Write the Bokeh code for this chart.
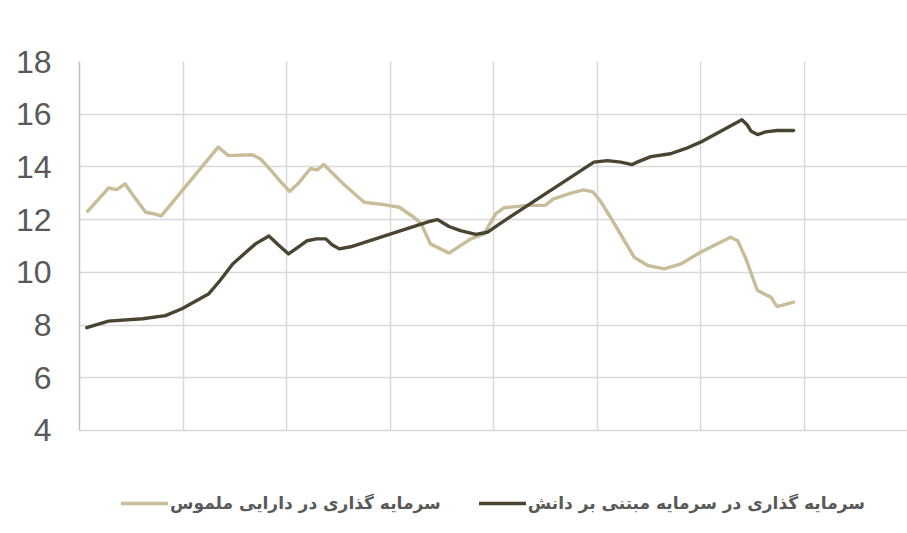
from bokeh.plotting import figure
from bokeh.models import Range1d, FixedTicker, Legend, LegendItem
from bokeh.embed import file_html
from bokeh.resources import INLINE

# Series: investment in tangible assets (light)
tangible_x = [0.08, 0.28, 0.36, 0.44, 0.52, 0.64, 0.72, 0.79, 1.34, 1.44, 1.67, 1.75, 1.85, 1.94,
              2.03, 2.11, 2.23, 2.30, 2.36, 2.55, 2.75, 2.94, 3.09, 3.23, 3.30, 3.39, 3.57, 3.78,
              3.91, 4.02, 4.10, 4.33, 4.50, 4.58, 4.74, 4.87, 4.96, 5.03, 5.13, 5.36, 5.49, 5.65,
              5.81, 6.00, 6.29, 6.36, 6.44, 6.55, 6.68, 6.74, 6.90]
tangible_y = [12.32, 13.20, 13.14, 13.36, 12.91, 12.28, 12.22, 12.14, 14.75, 14.43, 14.46, 14.30, 13.87, 13.45,
              13.07, 13.36, 13.93, 13.89, 14.09, 13.35, 12.66, 12.57, 12.47, 12.09, 11.85, 11.08, 10.73, 11.27,
              11.46, 12.22, 12.45, 12.54, 12.54, 12.79, 13.00, 13.13, 13.05, 12.72, 12.09, 10.57, 10.26, 10.13,
              10.32, 10.76, 11.33, 11.20, 10.50, 9.31, 9.06, 8.70, 8.87]

# Series: investment in knowledge-based capital (dark)
knowledge_x = [0.07, 0.28, 0.61, 0.83, 0.99, 1.25, 1.36, 1.48, 1.70, 1.83, 1.92, 2.02, 2.11, 2.20,
               2.29, 2.38, 2.44, 2.51, 2.62, 3.39, 3.46, 3.51, 3.57, 3.68, 3.83, 3.94, 4.07, 4.97,
               5.10, 5.23, 5.34, 5.40, 5.52, 5.71, 5.86, 6.00, 6.40, 6.45, 6.49, 6.55, 6.63, 6.74, 6.90]
knowledge_y = [7.90, 8.15, 8.24, 8.36, 8.62, 9.19, 9.70, 10.32, 11.08, 11.38, 11.05, 10.70, 10.95, 11.20,
               11.27, 11.27, 11.05, 10.89, 10.97, 11.94, 12.00, 11.88, 11.74, 11.58, 11.44, 11.52, 11.87, 14.18,
               14.24, 14.18, 14.09, 14.20, 14.39, 14.50, 14.70, 14.94, 15.79, 15.60, 15.35, 15.23, 15.33, 15.38, 15.38]

y_ticks = [4, 6, 8, 10, 12, 14, 16, 18]
x_grid = [1, 2, 3, 4, 5, 6, 7, 8]

label_tangible = "سرمایه گذاری در دارایی ملموس"
label_knowledge = "سرمایه گذاری در سرمایه مبتنی بر دانش"

# frame spans from the 18 gridline down to the bottom of the canvas (legend area included)
p = figure(width=907, height=533, output_backend="svg", toolbar_location=None,
           x_range=Range1d(0, 8.0), y_range=Range1d(0.092, 18),
           min_border_left=79, min_border_right=0, min_border_top=61, min_border_bottom=0)
p.outline_line_color = None
p.background_fill_color = "white"
p.border_fill_color = "white"
p.xaxis.visible = False

r1 = p.line(tangible_x, tangible_y, line_color="#c8bd98", line_width=3.4,
            line_join="round", line_cap="round")
r2 = p.line(knowledge_x, knowledge_y, line_color="#4a4431", line_width=3.4,
            line_join="round", line_cap="round")

p.yaxis.ticker = FixedTicker(ticks=y_ticks)
p.yaxis.bounds = (4, 18)
p.yaxis.major_tick_out = 0
p.yaxis.major_tick_in = 0
p.yaxis.minor_tick_out = 0
p.yaxis.minor_tick_in = 0
p.yaxis.major_label_standoff = 28
p.yaxis.major_label_text_font = "Liberation Sans"
p.yaxis.major_label_text_font_size = "32px"
p.yaxis.major_label_text_color = "#595959"
p.yaxis.axis_line_color = "#bfbfbf"
p.yaxis.axis_line_width = 1.5

p.ygrid.ticker = FixedTicker(ticks=y_ticks)
p.ygrid.grid_line_color = "#d9d9d9"
p.ygrid.grid_line_width = 1.5
p.xgrid.ticker = FixedTicker(ticks=x_grid)
p.xgrid.cross_bounds = (4, 18)
p.xgrid.grid_line_color = "#d9d9d9"
p.xgrid.grid_line_width = 1.5

legend = Legend(items=[LegendItem(label=label_tangible, renderers=[r1]),
                       LegendItem(label=label_knowledge, renderers=[r2])],
                orientation="horizontal", location="bottom_center")
legend.border_line_color = None
legend.background_fill_alpha = 0
legend.label_text_font = "DejaVu Sans"
legend.label_text_font_style = "bold"
legend.label_text_font_size = "17px"
legend.label_text_color = "#595959"
legend.glyph_width = 47
legend.label_standoff = 2
legend.spacing = 38
legend.padding = 0
legend.margin = 20
p.add_layout(legend, "center")

open("out.html", "w").write(file_html(p, INLINE))
